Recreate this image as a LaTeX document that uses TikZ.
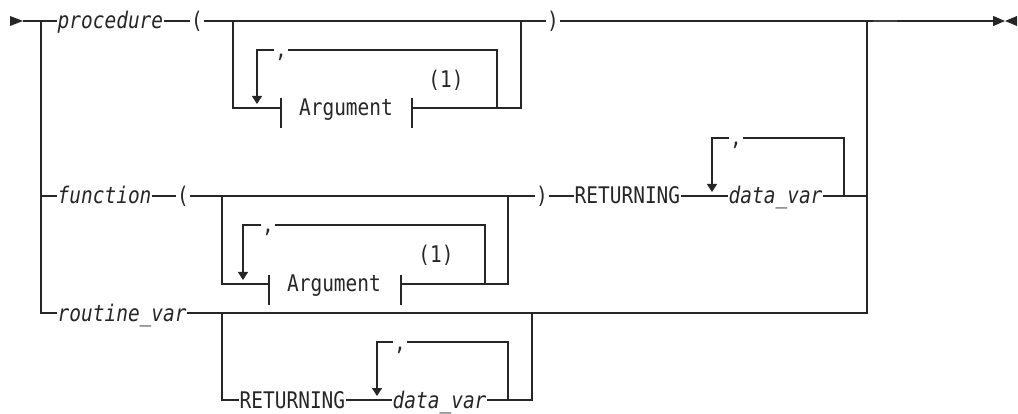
\documentclass[tikz,border=0pt]{standalone}
\usepackage{fontspec}
\newfontfamily\rrfont[FakeStretch=0.85]{DejaVu Sans Mono}
\usetikzlibrary{arrows.meta}
\tikzset{
  rr/.style={line width=1.2pt, draw=black!85},
  tipd/.style={-{Triangle[width=10pt,length=8pt]}},
  lab/.style={font=\rrfont\fontsize{22.9}{27}\selectfont, text=black!85, inner xsep=0.5pt, inner ysep=0pt, text height=16pt, text depth=0pt},
  var/.style={lab, font=\rrfont\itshape\fontsize{22.9}{27}\selectfont},
}
\begin{document}
\begin{tikzpicture}[x=1pt,y=-1pt]
\useasboundingbox (0,0) rectangle (1018,414);
% ---------- nodes row 1
\node[var, anchor=west] (proc) at (57,21) {procedure};
\node[lab] (lp1) at (197,21) {(};
\node[lab] (rp1) at (553,21) {)};
\node[lab] (arg1) at (346,108) {Argument};
\node[lab] (n1a) at (446,80) {(1)};
\node[lab] (c1) at (281,50) {,};
% ---------- nodes row 2
\node[var, anchor=west] (fn) at (57,196) {function};
\node[lab] (lp2) at (183,196) {(};
\node[lab] (arg2) at (334,284) {Argument};
\node[lab] (n2a) at (436,255) {(1)};
\node[lab] (c2) at (268,225) {,};
\node[lab] (rp2) at (542,196) {)};
\node[lab, anchor=west] (ret1) at (574,196) {RETURNING};
\node[lab] (c4) at (736,138) {,};
\node[var, anchor=west] (dv1) at (728,196) {data\_var};
% ---------- nodes row 3
\node[var, anchor=west] (rv) at (57,313) {routine\_var};
\node[lab, anchor=west] (ret2) at (239,400) {RETURNING};
\node[lab] (c3) at (400,342) {,};
\node[var, anchor=west] (dv2) at (392,400) {data\_var};
% ---------- coordinates
\coordinate (start) at (23,21);
\coordinate (jL1) at (41,21);
\coordinate (jL2) at (41,196);
\coordinate (jL3) at (41,313);
\coordinate (jR1) at (867,21);
\coordinate (jR2) at (867,196);
\coordinate (jR3) at (867,313);
\coordinate (endtip) at (1005,21);
\coordinate (dashA) at (873,21);
\coordinate (dashB) at (897,21);
% row 1
\coordinate (b1l) at (233,21);  \coordinate (b1ld) at (233,108);
\coordinate (b1r) at (521,21);  \coordinate (b1rd) at (521,108);
\coordinate (l1a) at (257,50);  \coordinate (l1tip) at (257,104);
\coordinate (l1r) at (497,50);  \coordinate (l1rd) at (497,108);
\coordinate (t1l) at (281,108); \coordinate (t1r) at (412,108);
% row 2
\coordinate (b2l) at (222,196); \coordinate (b2ld) at (222,284);
\coordinate (b2r) at (508,196); \coordinate (b2rd) at (508,284);
\coordinate (l2a) at (243,225); \coordinate (l2tip) at (243,280);
\coordinate (l2r) at (485,225); \coordinate (l2rd) at (485,284);
\coordinate (t2l) at (269,284); \coordinate (t2r) at (401,284);
\coordinate (l4a) at (712,138); \coordinate (l4tip) at (712,192);
\coordinate (l4r) at (844,138); \coordinate (l4rd) at (844,196);
% row 3
\coordinate (b3l) at (222,313); \coordinate (b3ld) at (222,400);
\coordinate (b3r) at (532,313); \coordinate (b3rd) at (532,400);
\coordinate (l3a) at (377,342); \coordinate (l3tip) at (377,396);
\coordinate (l3r) at (508,342); \coordinate (l3rd) at (508,400);
% ---------- start / end marks
\fill[black!85] (10,16) -- (start) -- (10,26) -- cycle;
\fill[black!85] (1017,16) -- (endtip) -- (1017,26) -- cycle;
% ---------- left spine
\draw[rr] (start) -- (jL1) -- (proc.west);
\draw[rr] (jL1) -- (jL3) -- (rv.west);
\draw[rr] (jL2) -- (fn.west);
% ---------- row 1
\draw[rr] (proc.east) -- (lp1.west);
\draw[rr] (lp1.east) -- (b1l) -- (b1r) -- (rp1.west);
\draw[rr] (b1l) -- (b1ld) -- (t1l);
\draw[rr] (t1l) ++(0,-10) -- ++(0,30);
\draw[rr] (t1r) ++(0,-10) -- ++(0,30);
\draw[rr] (t1r) -- (l1rd) -- (b1rd) -- (b1r);
\draw[rr] (l1rd) -- (l1r) -- (c1.east);
\draw[rr,tipd] (c1.west) -- (l1a) -- (l1tip);
\draw[rr,-{Triangle[width=10pt,length=12pt]}] (rp1.east) -- (jR1) -- (endtip);
\draw[line width=1.7pt, draw=black!75] (dashA) -- (dashB);
% ---------- row 2
\draw[rr] (fn.east) -- (lp2.west);
\draw[rr] (lp2.east) -- (b2l) -- (b2r) -- (rp2.west);
\draw[rr] (b2l) -- (b2ld) -- (t2l);
\draw[rr] (t2l) ++(0,-9) -- ++(0,30);
\draw[rr] (t2r) ++(0,-9) -- ++(0,30);
\draw[rr] (t2r) -- (l2rd) -- (b2rd) -- (b2r);
\draw[rr] (l2rd) -- (l2r) -- (c2.east);
\draw[rr,tipd] (c2.west) -- (l2a) -- (l2tip);
\draw[rr] (rp2.east) -- (ret1.west);
\draw[rr] (ret1.east) -- (dv1.west);
\draw[rr] (dv1.east) -- (l4rd) -- (jR2);
\draw[rr] (l4rd) -- (l4r) -- (c4.east);
\draw[rr,tipd] (c4.west) -- (l4a) -- (l4tip);
% ---------- row 3
\draw[rr] (rv.east) -- (b3l) -- (b3r) -- (jR3) -- (jR1);
\draw[rr] (b3l) -- (b3ld) -- (ret2.west);
\draw[rr] (ret2.east) -- (dv2.west);
\draw[rr] (dv2.east) -- (l3rd) -- (b3rd) -- (b3r);
\draw[rr] (l3rd) -- (l3r) -- (c3.east);
\draw[rr,tipd] (c3.west) -- (l3a) -- (l3tip);
\end{tikzpicture}
\end{document}
